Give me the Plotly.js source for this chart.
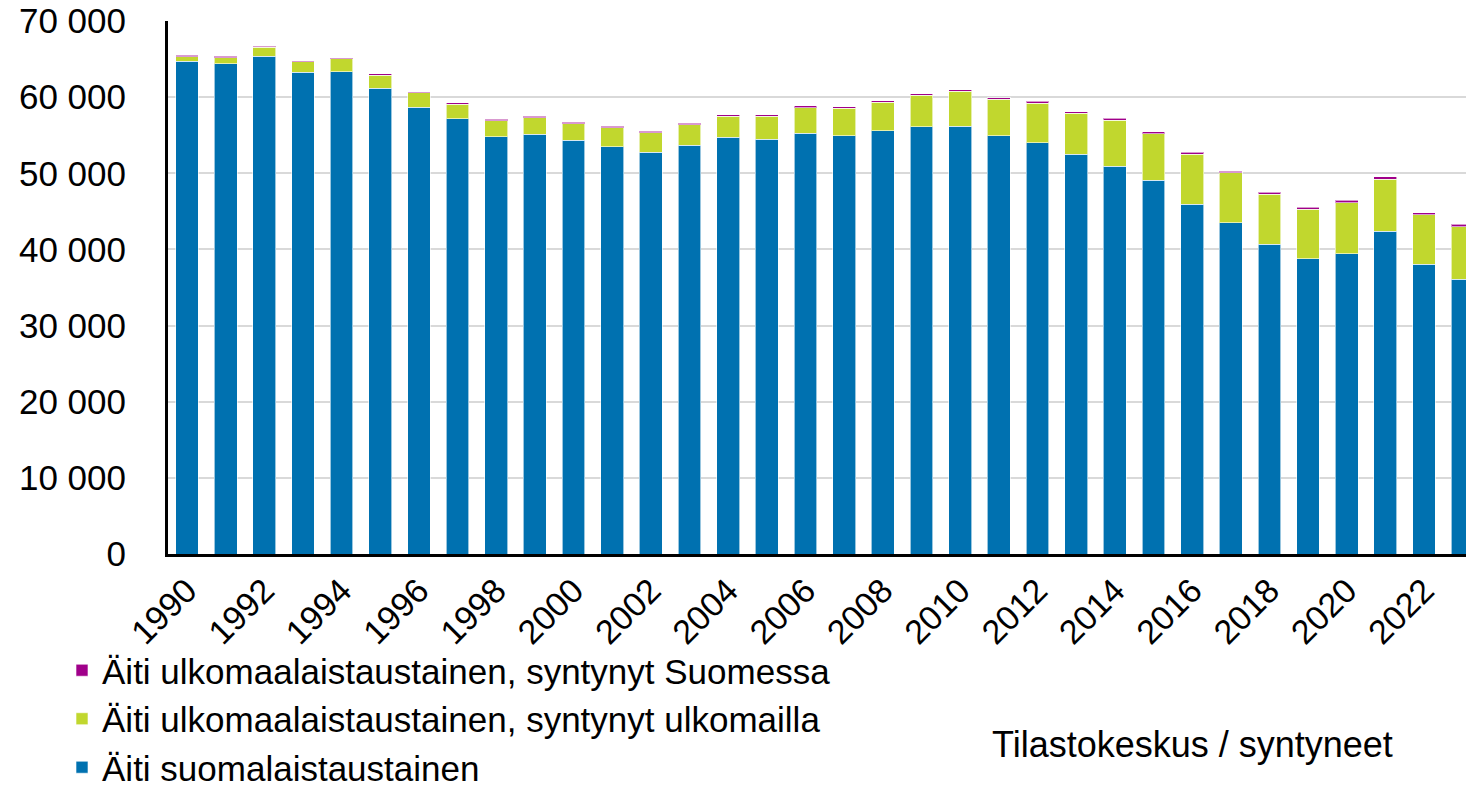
<!DOCTYPE html>
<html>
<head>
<meta charset="utf-8">
<script src="https://cdn.plot.ly/plotly-3.0.1.min.js"></script>
<style>html,body{margin:0;padding:0;background:#fff;}#chart{width:1466px;height:786px;}</style>
</head>
<body>
<div id="chart"></div>
<script>
const years = [1990,1991,1992,1993,1994,1995,1996,1997,1998,1999,2000,2001,2002,2003,2004,2005,2006,2007,2008,2009,2010,2011,2012,2013,2014,2015,2016,2017,2018,2019,2020,2021,2022,2023];
const finnishBackground = [64700,64390,65400,63250,63340,61150,58700,57160,54800,55150,54340,53480,52790,53700,54750,54450,55280,54930,55590,56110,56200,54930,54010,52470,50950,49100,45950,43500,40650,38760,39420,42400,38070,36100];
const foreignBornAbroad = [600,810,1150,1380,1700,1750,1850,1940,2100,2160,2170,2480,2560,2700,2740,3040,3360,3600,3740,4110,4550,4790,5200,5390,6010,6100,6550,6540,6580,6510,6730,6800,6480,6880];
const foreignBornFinland = [170,150,150,170,160,170,170,180,180,190,190,190,200,200,210,210,210,220,220,230,230,230,240,240,240,250,250,260,270,280,300,350,300,320];
const seriesNames = ["Äiti suomalaistaustainen","Äiti ulkomaalaistaustainen, syntynyt ulkomailla","Äiti ulkomaalaistaustainen, syntynyt Suomessa"];
const yTickVals = [0,10000,20000,30000,40000,50000,60000,70000];
const yTickText = ["0","10 000","20 000","30 000","40 000","50 000","60 000","70 000"];
const sourceText = "Tilastokeskus / syntyneet";

const colors = ["#0071b0","#c1d72e","#a0008a"];
const seriesVals = [finnishBackground, foreignBornAbroad, foreignBornFinland];
const font = "Liberation Sans, Arial, sans-serif";

const traces = seriesVals.map((v,i)=>({
  type:"bar", x:years, y:v, name:seriesNames[i],
  legendgroup:"g"+i, legendrank:3-i,
  marker:{color:colors[i], line:{color:"rgba(255,255,255,0.6)", width:1}},
  hoverinfo:"x+y+name"
}));

const layout = {
  width:1466, height:786,
  margin:{l:168, r:0, t:21, b:232, autoexpand:false},
  barmode:"stack", bargap:0.41,
  paper_bgcolor:"#fff", plot_bgcolor:"#fff",
  font:{family:font, size:34, color:"#000"},
  xaxis:{
    range:[1989.51, 2023.085], tickmode:"linear", tick0:1990, dtick:2,
    tickangle:-45, showgrid:false, zeroline:false, automargin:false,
    showline:true, linecolor:"#000", linewidth:3,
    ticks:"", tickfont:{size:34, family:font, color:"#000"}
  },
  yaxis:{
    range:[0,70000], tickvals:yTickVals, ticktext:yTickText, automargin:false,
    showgrid:true, gridcolor:"#d9d9d9", gridwidth:2, zeroline:false,
    showline:true, linecolor:"#000", linewidth:3,
    ticks:"", ticklabelstandoff:32,
    tickfont:{size:35, family:font, color:"#000"}
  },
  legend:{
    xref:"container", yref:"container", x:0.0423, y:0.1845,
    xanchor:"left", yanchor:"top",
    traceorder:"grouped", tracegroupgap:0,
    font:{size:35, family:font, color:"#000"},
    bgcolor:"rgba(0,0,0,0)", itemwidth:30
  },
  annotations:[{
    xref:"paper", yref:"paper", x:0.633, y:-0.358, xanchor:"left", yanchor:"middle",
    text:sourceText, showarrow:false, font:{size:36, family:font, color:"#000"}
  }]
};

Plotly.newPlot("chart", traces, layout, {displayModeBar:false, responsive:false});
</script>
</body>
</html>
